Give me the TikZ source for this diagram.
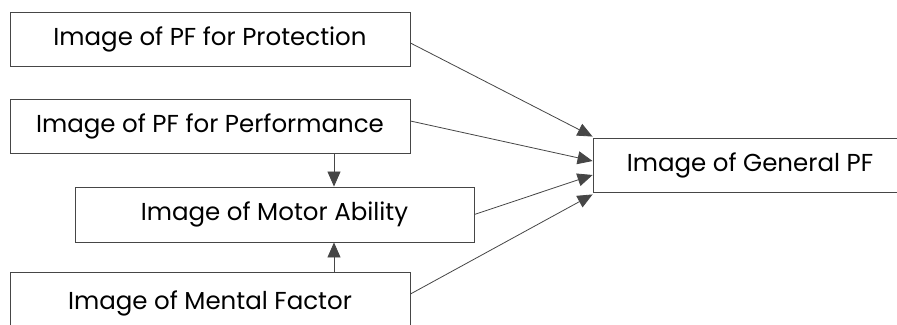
\documentclass[tikz,border=0pt]{standalone}
\usepackage{fontspec}
\setmainfont{Poppins}
\usetikzlibrary{arrows.meta}
\definecolor{linegray}{RGB}{70,70,70}
\begin{document}
\begin{tikzpicture}[x=1pt,y=-1pt,
  box/.style={draw=linegray,line width=0.9pt,rectangle,inner sep=0pt,
    minimum height=54pt,font=\fontsize{24.5}{28}\selectfont},
  arr/.style={draw=linegray,line width=0.8pt,-{Triangle[length=15pt,width=13pt]}}]
\useasboundingbox (0,0) rectangle (897,324);
\clip (0,0) rectangle (897,324);
\fill[white] (0,0) rectangle (897,324);
\node[box,minimum width=400pt] (b1) at (210,39) {Image of PF for Protection};
\node[box,minimum width=400pt] (b2) at (210,126) {Image of PF for Performance};
\node[box,minimum width=399pt,minimum height=55pt] (b3) at (274.5,214.5) {Image of Motor Ability};
\node[box,minimum width=400pt,minimum height=62pt] (b4) at (210,303) {Image of Mental Factor};
\node[box,minimum width=314pt] (g) at (750,165) {Image of General PF};
\coordinate (vx) at (334,0);
\draw[arr] (b2.south -| vx) -- (b3.north -| vx);
\draw[arr] (b4.north -| vx) -- (b3.south -| vx);
\draw[arr] ([yshift=-4pt]b1.east) -- ([yshift=1pt]g.north west);
\draw[arr] ([yshift=5pt]b2.east) -- ([yshift=4pt]g.west);
\draw[arr] (b3.east) -- ([yshift=-10pt]g.west);
\draw[arr] ([yshift=9pt]b4.east) -- ([yshift=-2pt]g.south west);
\end{tikzpicture}
\end{document}
